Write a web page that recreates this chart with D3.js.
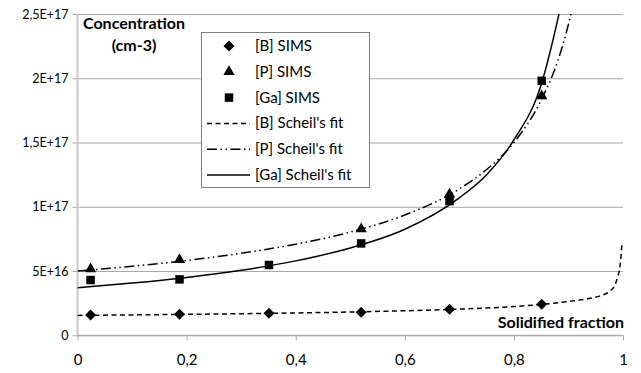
<!DOCTYPE html>
<html><head><meta charset="utf-8">
<script src="https://cdn.jsdelivr.net/npm/d3@7"></script>
<style>
html,body{margin:0;padding:0;background:#fff;}
svg{display:block;font-family:Lato,"Open Sans",sans-serif;}
</style></head>
<body><svg id="c" width="641" height="373"></svg>
<script>
// ---- data ----
const xTicks = [0, 0.2, 0.4, 0.6, 0.8, 1];
const xTickLabels = ["0", "0,2", "0,4", "0,6", "0,8", "1"];
const yTicks = [0, 5e16, 1e17, 1.5e17, 2e17, 2.5e17];
const yTickLabels = ["0", "5E+16", "1E+17", "1,5E+17", "2E+17", "2,5E+17"];

const simsFs = [0.024, 0.187, 0.351, 0.52, 0.682, 0.851];
const bSims = [1.58e16, 1.63e16, 1.71e16, 1.79e16, 2.02e16, 2.41e16];
const pSims = [5.08e16, 5.8e16, null, 8.19e16, 1.09e17, 1.855e17];
const gaSims = [4.3e16, 4.35e16, 5.47e16, 7.15e16, 1.044e17, 1.98e17];

const bFitFs = [0, 0.2, 0.4, 0.6, 0.7, 0.8, 0.85, 0.9, 0.94, 0.96, 0.975, 0.985, 0.99, 0.993, 0.996, 0.998];
const bFit = [1.55e16, 1.63e16, 1.74e16, 1.91e16, 2.04e16, 2.24e16, 2.40e16, 2.63e16, 2.88e16, 3.1e16, 3.4e16, 3.9e16, 4.5e16, 5.0e16, 6.0e16, 7.1e16];
const pFitFs = [0, 0.1, 0.2, 0.3, 0.4, 0.5, 0.6, 0.7, 0.75, 0.8, 0.85, 0.88, 0.9, 0.92];
const pFit = [5.0e16, 5.37e16, 5.82e16, 6.38e16, 7.09e16, 8.03e16, 9.36e16, 1.139e17, 1.29e17, 1.50e17, 1.83e17, 2.13e17, 2.42e17, 2.81e17];
const gaFitFs = [0, 0.1, 0.2, 0.3, 0.4, 0.5, 0.6, 0.7, 0.75, 0.8, 0.85, 0.88, 0.9];
const gaFit = [3.7e16, 4.06e16, 4.50e16, 5.06e16, 5.79e16, 6.79e16, 8.25e16, 1.07e17, 1.25e17, 1.52e17, 1.95e17, 2.45e17, 2.85e17];

const legendLabels = ["[B] SIMS", "[P] SIMS", "[Ga] SIMS", "[B] Scheil's fit", "[P] Scheil's fit", "[Ga] Scheil's fit"];

// ---- layout ----
const L = 77.5, R = 623, T = 14, B = 335.3;
const x = d3.scaleLinear().domain([0, 1]).range([L, R]);
const y = d3.scaleLinear().domain([0, 2.5e17]).range([B, T]);
const svg = d3.select("#c");

svg.append("defs").append("clipPath").attr("id", "clip")
  .append("rect").attr("x", L).attr("y", T).attr("width", R - L + 2).attr("height", B - T);

// gridlines + y ticks
const yAxis = d3.axisLeft(y).tickValues(yTicks).tickSize(-(R - L)).tickPadding(9)
  .tickFormat((d, i) => yTickLabels[i]);
const gy = svg.append("g").attr("transform", `translate(${L},0)`).call(yAxis);
gy.select(".domain").remove();
gy.selectAll(".tick line").attr("stroke", "#a6a6a6").attr("stroke-width", 1)
  .attr("x1", -5).attr("x2", R - L);
gy.selectAll(".tick text").attr("font-size", 12.5).attr("fill", "#000").attr("font-family", "Lato, sans-serif");

// y axis line
svg.append("line").attr("x1", L).attr("x2", L).attr("y1", T).attr("y2", B)
  .attr("stroke", "#c8c8c8").attr("stroke-width", 2);

// x axis
const xAxis = d3.axisBottom(x).tickValues(xTicks).tickSize(5).tickPadding(14)
  .tickFormat((d, i) => xTickLabels[i]);
const gx = svg.append("g").attr("transform", `translate(0,${B})`).call(xAxis);
gx.select(".domain").attr("stroke", "#a6a6a6").attr("d", `M${L},0H${R}`);
gx.selectAll(".tick line").attr("stroke", "#a6a6a6");
gx.selectAll(".tick text").attr("font-size", 15).attr("fill", "#000").attr("font-family", "Lato, sans-serif");

// fit curves
const mk = (fs, vals) => fs.map((f, i) => [f, vals[i]]);
const line = d3.line().x(d => x(d[0])).y(d => y(d[1])).curve(d3.curveMonotoneX);
const curves = svg.append("g").attr("clip-path", "url(#clip)");
curves.append("path").attr("d", line(mk(bFitFs, bFit))).attr("fill", "none")
  .attr("stroke", "#000").attr("stroke-width", 1.5).attr("stroke-dasharray", "5,3.5");
curves.append("path").attr("d", line(mk(pFitFs, pFit))).attr("fill", "none")
  .attr("stroke", "#000").attr("stroke-width", 1.5).attr("stroke-dasharray", "10,3.5,1.5,3.5,1.5,3.5");
curves.append("path").attr("d", line(mk(gaFitFs, gaFit))).attr("fill", "none")
  .attr("stroke", "#000").attr("stroke-width", 1.5);

// markers
const diamond = d3.symbol().type(d3.symbolSquare).size(60);
const tri = d3.symbol().type(d3.symbolTriangle).size(55);
const sq = d3.symbol().type(d3.symbolSquare).size(72);
svg.append("g").selectAll("path").data(mk(simsFs, bSims)).join("path")
  .attr("d", diamond).attr("transform", d => `translate(${x(d[0])},${y(d[1])}) rotate(45)`).attr("fill", "#000");
svg.append("g").selectAll("path").data(mk(simsFs, gaSims)).join("path")
  .attr("d", sq).attr("transform", d => `translate(${x(d[0])},${y(d[1])})`).attr("fill", "#000");
svg.append("g").selectAll("path").data(mk(simsFs, pSims).filter(d => d[1] != null)).join("path")
  .attr("d", tri).attr("transform", d => `translate(${x(d[0])},${y(d[1]) - 1})`).attr("fill", "#000");

// titles
svg.append("text").attr("x", 134).attr("y", 29).attr("text-anchor", "middle")
  .attr("font-size", 16).attr("font-weight", "bold").text("Concentration");
svg.append("text").attr("x", 134).attr("y", 51).attr("text-anchor", "middle")
  .attr("font-size", 16).attr("font-weight", "bold").text("(cm-3)");
svg.append("text").attr("x", 624).attr("y", 328).attr("text-anchor", "end")
  .attr("font-size", 16).attr("font-weight", "bold").text("Solidified fraction");

// legend
const lg = svg.append("g");
lg.append("rect").attr("x", 201.5).attr("y", 32.5).attr("width", 168).attr("height", 155)
  .attr("fill", "#fff").attr("stroke", "#7f7f7f").attr("stroke-width", 1);
const rowY = i => 46 + i * 25.8;
const symX = 229;
lg.append("path").attr("d", diamond).attr("transform", `translate(${symX},${rowY(0)}) rotate(45)`).attr("fill", "#000");
lg.append("path").attr("d", tri).attr("transform", `translate(${symX},${rowY(1)})`).attr("fill", "#000");
lg.append("path").attr("d", sq).attr("transform", `translate(${symX},${rowY(2)})`).attr("fill", "#000");
const dashes = ["5,3.5", "10,3.5,1.5,3.5,1.5,3.5", null];
dashes.forEach((da, k) => {
  const l = lg.append("line").attr("x1", 207).attr("x2", 250).attr("y1", rowY(3 + k)).attr("y2", rowY(3 + k))
    .attr("stroke", "#000").attr("stroke-width", 1.5);
  if (da) l.attr("stroke-dasharray", da);
});
legendLabels.forEach((t, i) => {
  lg.append("text").attr("x", 255).attr("y", rowY(i) + 5).attr("font-size", 15).text(t);
});
</script></body></html>
